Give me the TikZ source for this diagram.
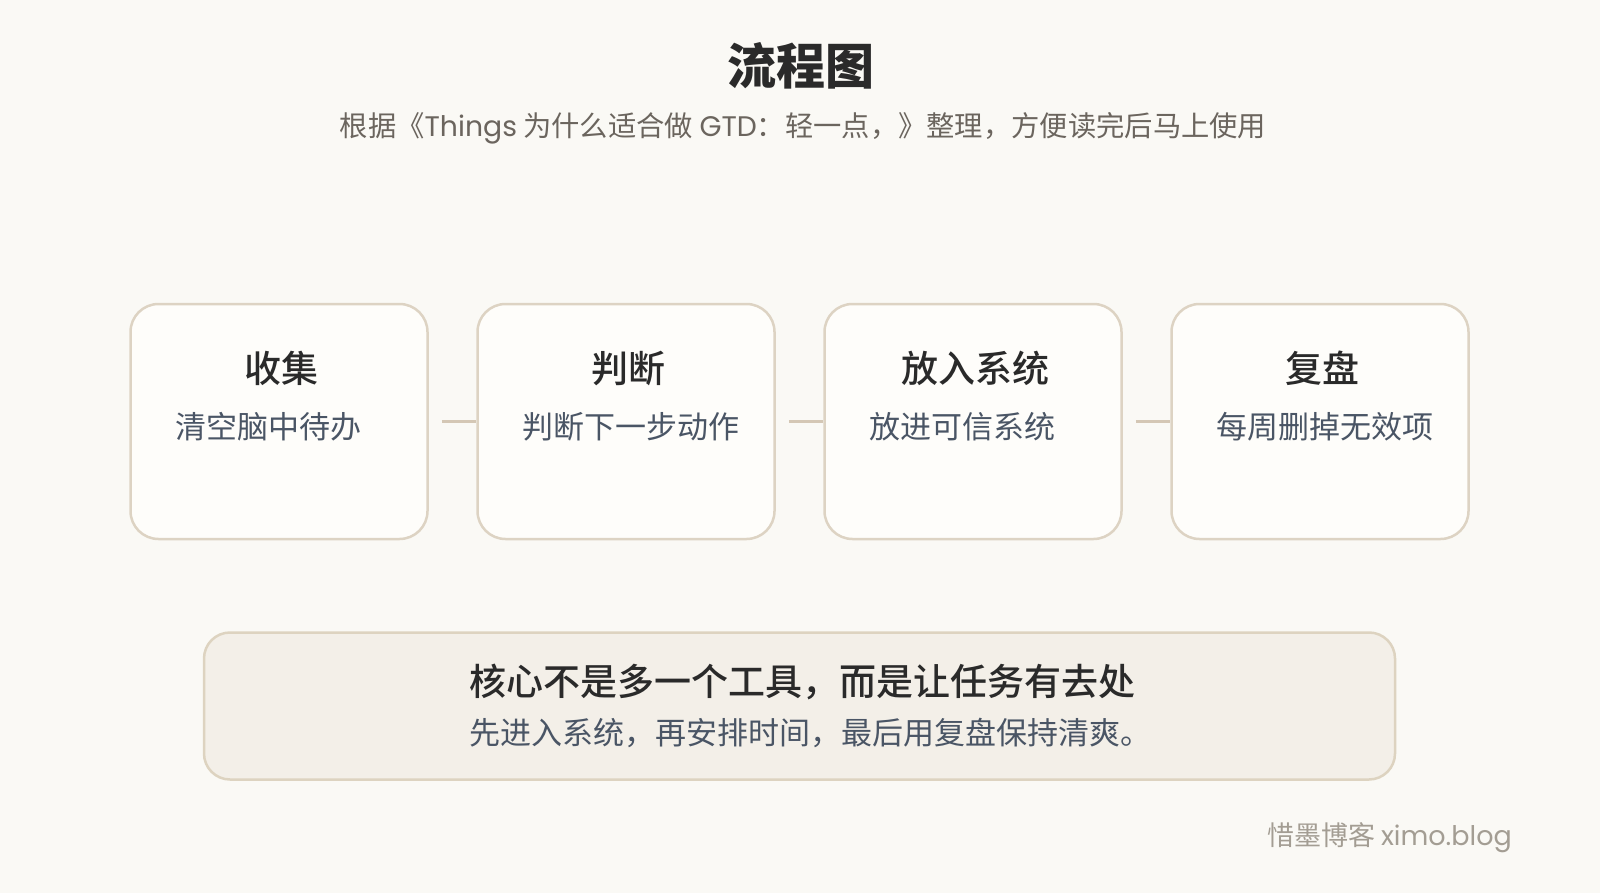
\documentclass[tikz,border=0pt]{standalone}
\usepackage{fontspec}
\setmainfont{Noto Sans CJK SC}
\newfontfamily\latinf{Poppins}
\IfFontExistsTF{Noto Sans CJK SC Medium}{\newfontfamily\hvyfont{Noto Sans CJK SC Medium}}{\newcommand\hvyfont{\bfseries}}
\definecolor{bgc}{HTML}{FAF9F5}
\definecolor{boxfill}{HTML}{FEFDFA}
\definecolor{boxline}{HTML}{DDD3C3}
\definecolor{connc}{HTML}{D4C7B5}
\definecolor{darktext}{HTML}{2A2A2A}
\definecolor{subgray}{HTML}{6B655E}
\definecolor{slate}{HTML}{4A5565}
\definecolor{notefill}{HTML}{F3EFE8}
\definecolor{noteline}{HTML}{DDD3C0}
\definecolor{wmgray}{HTML}{A39D93}
\tikzset{
  stepbox/.style={draw=boxline, line width=2.5pt, fill=boxfill, rounded corners=28pt,
    minimum width=297pt, minimum height=235pt, inner sep=0pt},
  conn/.style={draw=connc, line width=3.5pt},
  ttl/.style={text=darktext, inner sep=0pt, font=\fontsize{37pt}{42pt}\selectfont\hvyfont},
  desc/.style={text=slate, inner sep=0pt, anchor=west, font=\fontsize{31pt}{36pt}\selectfont},
  notebox/.style={draw=noteline, line width=2.5pt, fill=notefill, rounded corners=26pt,
    minimum width=1191pt, minimum height=147pt, inner sep=0pt},
}
\begin{document}
\begin{tikzpicture}[x=1pt,y=-1pt]
\useasboundingbox (0,0) rectangle (1600,893);
\fill[bgc] (0,0) rectangle (1600,893);

\node[text=darktext, inner sep=0pt, font=\fontsize{49pt}{56pt}\selectfont\bfseries] (title) at (801,66) {流程图};
\node[text=subgray, inner sep=0pt, font=\fontsize{28.3pt}{34pt}\selectfont] (subtitle) at (803,128.5)
  {根据《{\latinf Things} 为什么适合做 {\latinf GTD}：轻一点，》整理，方便读完后马上使用};

\node[stepbox] (b1) at (279,421.5) {};
\node[stepbox] (b2) at (626,421.5) {};
\node[stepbox] (b3) at (973,421.5) {};
\node[stepbox] (b4) at (1320,421.5) {};

\draw[conn] ([xshift=13pt]b1.east) -- (b2.west);
\draw[conn] ([xshift=13pt]b2.east) -- (b3.west);
\draw[conn] ([xshift=13pt]b3.east) -- (b4.west);

\node[ttl] (t1) at (281,368) {收集};
\node[ttl] (t2) at (628,368) {判断};
\node[ttl] (t3) at (975,368) {放入系统};
\node[ttl] (t4) at (1322,368) {复盘};

\node[desc] (d1) at (175,427) {清空脑中待办};
\node[desc] (d2) at (522,427) {判断下一步动作};
\node[desc] (d3) at (869,427) {放进可信系统};
\node[desc] (d4) at (1216,427) {每周删掉无效项};

\node[notebox] (note) at (799.5,706) {};
\node[ttl] (nt) at (802,681.5) {核心不是多一个工具，而是让任务有去处};
\node[text=slate, inner sep=0pt, font=\fontsize{31pt}{36pt}\selectfont] (ns) at (810,733) {先进入系统，再安排时间，最后用复盘保持清爽。};

\node[text=wmgray, inner sep=0pt, anchor=east, font=\fontsize{27pt}{32pt}\selectfont] (wm) at (1512,838) {惜墨博客 {\latinf ximo.blog}};
\end{tikzpicture}
\end{document}
